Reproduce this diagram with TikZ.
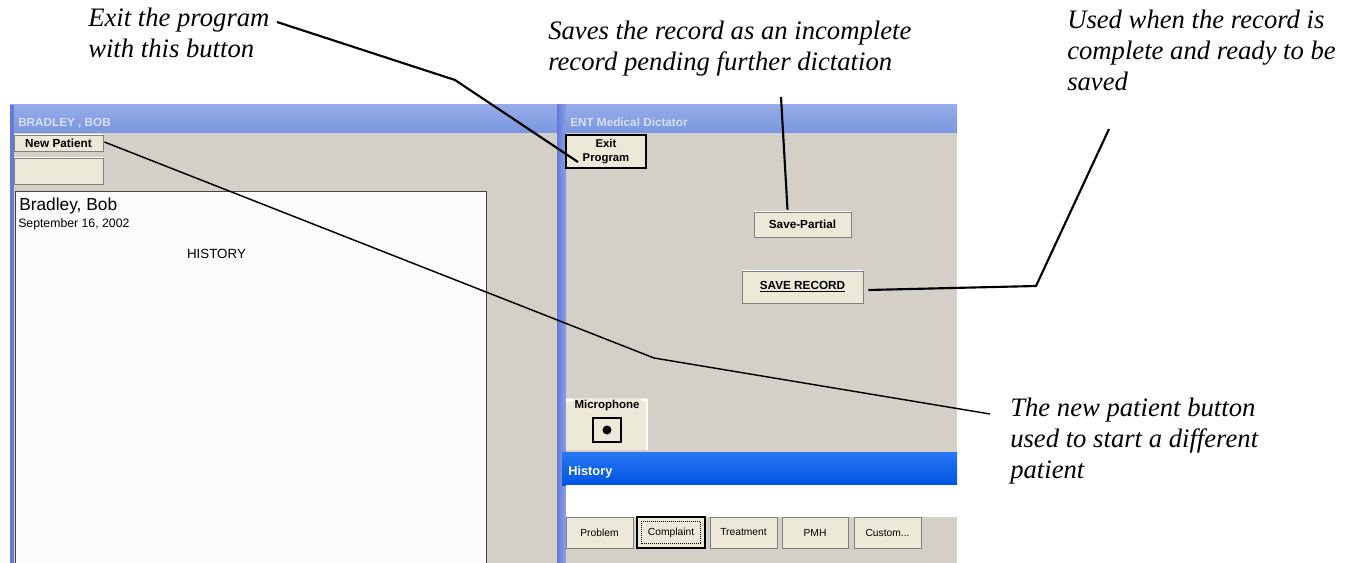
\documentclass[tikz,border=0pt]{standalone}
\usepackage{fontspec}
\setmainfont{Liberation Serif}
\newfontfamily\uifont{Liberation Sans}
\usetikzlibrary{calc}
\definecolor{titlebar}{RGB}{122,150,223}
\definecolor{titlebarlt}{RGB}{150,172,232}
\definecolor{titletext}{RGB}{214,223,247}
\definecolor{winblue}{RGB}{100,122,214}
\definecolor{winbluelt}{RGB}{140,160,232}
\definecolor{winface}{RGB}{212,208,200}
\definecolor{btnface}{RGB}{236,233,216}
\definecolor{xpblue}{RGB}{0,84,227}
\definecolor{xpbluelt}{RGB}{40,120,240}
\definecolor{paper}{RGB}{252,252,252}
\tikzset{
  box/.style 2 args={minimum width=#1*0.75pt, minimum height=#2*0.75pt, inner sep=0pt},
  uibold/.style={font=\uifont\bfseries\fontsize{8.8}{10.5}\selectfont},
  uireg/.style={font=\uifont\fontsize{7.7}{9}\selectfont},
  btn/.style={fill=btnface, draw={rgb,255:red,128;green,128;blue,128}, line width=0.6pt,
    path picture={\draw[white,line width=1.2pt] (path picture bounding box.south west) -- (path picture bounding box.north west) -- (path picture bounding box.north east);}},
  note/.style={font=\itshape\fontsize{20}{23.25}\selectfont, align=left, anchor=north west, inner sep=0pt},
  callout/.style={draw=black, line width=1.6pt, line join=round},
  thincallout/.style={draw=black, line width=1.1pt, line join=round}
}
\begin{document}
\begin{tikzpicture}[x=0.75pt,y=-0.75pt]
\useasboundingbox (0,0) rectangle (1354,563);
\fill[white] (0,0) rectangle (1354,563);

% ---------- left window ----------
\shade[top color=titlebarlt, bottom color=titlebar] (10,105) rectangle (560,133);
\fill[winblue] (10,105) rectangle (14,563);
\fill[winface] (14,133) rectangle (557,563);
\node[uibold, anchor=base west, text=titletext, inner sep=0pt] (ltitle) at (18,127) {BRADLEY , BOB};
\node[btn, uibold, box={89}{16}] (newpat) at (58.5,143) {New Patient};
\node[btn, box={89}{26}] (blankbtn) at (58.5,171) {};
\fill[paper] (15,191) rectangle (487,563);
\draw[gray!55!black, line width=1.3pt] (15.5,570) -- (15.5,191.5) -- (486.5,191.5) -- (486.5,570);
\node[font=\uifont\fontsize{13}{15}\selectfont, anchor=base west, inner sep=0pt] (pname) at (19,211) {Bradley, Bob};
\node[font=\uifont\fontsize{9.2}{11}\selectfont, anchor=base west, inner sep=0pt] (pdate) at (18,228) {September 16, 2002};
\node[font=\uifont\fontsize{10}{12}\selectfont, anchor=base, inner sep=0pt] (phist) at (216.5,259) {HISTORY};

% ---------- right window ----------
\shade[top color=titlebarlt, bottom color=titlebar] (560,105) rectangle (957,133);
\fill[winface] (566,133) rectangle (957,452);
\shade[left color=winblue, right color=winbluelt] (557,105) rectangle (566,563);
\node[uibold, anchor=base west, text=titletext, inner sep=0pt] (rtitle) at (570,127) {ENT Medical Dictator};

\node[btn, uibold, box={80}{33}, align=center, font=\uifont\bfseries\fontsize{8.5}{10.5}\selectfont, draw=black, line width=0.9pt] (exitbtn) at (606,151.5) {Exit\\Program};
\node[btn, uibold, box={97}{25}] (savepart) at (802.5,224.5) {Save-Partial};
\node[btn, uibold, box={121}{32}] (saverec) at (802.5,287) {\underline{SAVE RECORD}};

% microphone group
\fill[btnface] (566,398) rectangle (647,450);
\draw[white, line width=0.8pt] (566,400) -- (647,400) -- (647,450);
\node[font=\uifont\bfseries\fontsize{8.6}{10}\selectfont, fill=btnface, inner sep=1pt, anchor=base] (miclbl) at (607,408) {Microphone};
\node[btn, box={28}{24}, draw=black, line width=1pt] (micbtn) at (607,430) {};
\fill[black] (micbtn.center) circle (4.5);

% history window
\shade[top color=xpbluelt, bottom color=xpblue] (562,452) rectangle (957,485);
\fill[white] (566,485) rectangle (957,517);
\fill[winface] (566,517) rectangle (957,563);
\node[font=\uifont\bfseries\fontsize{9.6}{11}\selectfont, text=white, anchor=base west, inner sep=0pt] (histlbl) at (568,475) {History};
\node[btn, uireg, box={67}{31}] (tproblem) at (599.5,532.5) {Problem};
\node[btn, uireg, box={68}{31}, draw=black, line width=1pt] (tcompl) at (671,532.5) {Complaint};
\draw[black, densely dotted, line width=0.5pt] ($(tcompl.south west)+(5,-5)$) rectangle ($(tcompl.north east)+(-5,5)$);
\node[btn, uireg, box={67}{31}] (ttreat) at (743.5,532.5) {Treatment};
\node[btn, uireg, box={66}{31}] (tpmh) at (815,532.5) {PMH};
\node[btn, uireg, box={67}{31}] (tcustom) at (887.5,532.5) {Custom...};

% ---------- annotations ----------
\node[note] (exitnote) at (88,8) {Exit the program\\with this button};
\node[note] (partnote) at (548,20.5) {Saves the record as an incomplete\\record pending further dictation};
\node[note] (recnote) at (1067,10) {Used when the record is\\complete and ready to be\\saved};
\node[note] (newnote) at (1010,397.5) {The new patient button\\used to start a different\\patient};

\coordinate (e0) at (277,22);
\coordinate (e1) at (455,80);
\coordinate (e2) at (578,162);
\draw[callout] (e0) -- (e1) -- (e2);

\coordinate (p0) at (781,97);
\draw[callout] (p0) -- ($(savepart.north)+(-15,-2)$);

\coordinate (r1) at (1036,286);
\coordinate (r2) at (1109,129);
\draw[callout] ($(saverec.east)+(5,3)$) -- (r1) -- (r2);

\coordinate (n1) at (654,358);
\coordinate (n2) at (990,414);
\draw[thincallout] ($(newpat.east)+(1,-1)$) -- (n1) -- (n2);
\end{tikzpicture}
\end{document}
